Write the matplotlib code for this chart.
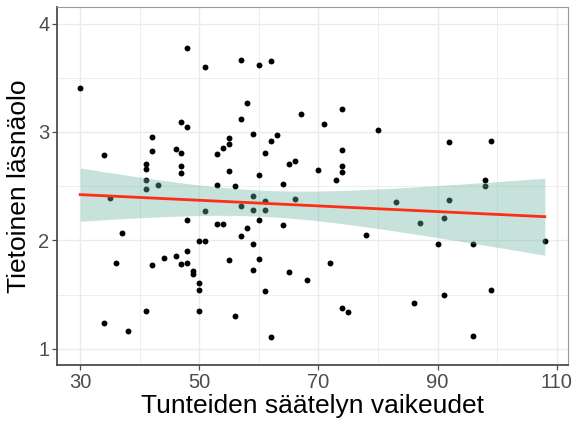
import matplotlib
matplotlib.use("Agg")
import matplotlib.pyplot as plt
import numpy as np

# Tunteiden säätelyn vaikeudet (x) ja tietoinen läsnäolo (y)
saately = [30, 48, 51, 34, 47, 48, 42, 42, 46, 47, 41, 41, 47, 47, 53, 54, 55, 55, 55, 41,
           57, 60, 62, 58, 57, 67, 74, 71, 80, 59, 62, 63, 61, 74, 65, 66, 60, 70, 74, 74,
           73, 92, 99, 98, 41, 43, 35, 53, 56, 51, 48, 53, 54, 37, 50, 51, 48, 46, 44, 36,
           42, 47, 48, 55, 49, 49, 50, 50, 41, 50, 56, 34, 38, 64, 59, 61, 57, 59, 61, 66,
           83, 60, 58, 57, 64, 59, 78, 60, 59, 65, 68, 72, 61, 74, 75, 62, 98, 92, 87, 91,
           90, 96, 108, 86, 91, 99, 96]
lasnaolo = [3.41, 3.77, 3.60, 2.79, 3.09, 3.05, 2.95, 2.82, 2.84, 2.81, 2.70, 2.66, 2.69, 2.62,
            2.80, 2.85, 2.94, 2.89, 2.64, 2.56, 3.66, 3.62, 3.65, 3.27, 3.12, 3.17, 3.21, 3.07,
            3.02, 2.98, 2.92, 2.97, 2.81, 2.83, 2.70, 2.73, 2.60, 2.65, 2.69, 2.63, 2.56, 2.91,
            2.92, 2.56, 2.47, 2.51, 2.39, 2.51, 2.50, 2.27, 2.19, 2.15, 2.15, 2.07, 1.99, 1.99,
            1.90, 1.86, 1.84, 1.79, 1.77, 1.78, 1.79, 1.82, 1.72, 1.69, 1.61, 1.54, 1.35, 1.35,
            1.30, 1.24, 1.16, 2.52, 2.41, 2.36, 2.32, 2.28, 2.28, 2.38, 2.35, 2.19, 2.11, 2.04,
            2.14, 1.97, 2.05, 1.83, 1.73, 1.71, 1.63, 1.79, 1.53, 1.38, 1.34, 1.11, 2.50, 2.37,
            2.16, 2.21, 1.97, 1.97, 1.99, 1.42, 1.50, 1.54, 1.12]

x = np.array(saately, dtype=float)
y = np.array(lasnaolo)

# lineaarinen regressio + 95 % luottamusväli (kuten geom_smooth(method="lm"))
n = len(x)
b1, b0 = np.polyfit(x, y, 1)
res = y - (b0 + b1 * x)
s = np.sqrt(np.sum(res**2) / (n - 2))
xs = np.linspace(x.min(), x.max(), 200)
ys = b0 + b1 * xs
se = s * np.sqrt(1 / n + (xs - x.mean())**2 / np.sum((x - x.mean())**2))
t = 1.98
lo, hi = ys - t * se, ys + t * se

plt.rcParams['font.family'] = ['Liberation Sans', 'DejaVu Sans']

fig = plt.figure(figsize=(5.77, 4.21), dpi=100)
ax = fig.add_axes([0.0988, 0.133, 0.8856, 0.8497])

ax.scatter(x, y, s=18, color='black', zorder=3, linewidths=0)
ax.fill_between(xs, lo, hi, color='#69b3a2', alpha=0.38, linewidth=0, zorder=4)
ax.plot(xs, ys, color='#ff2d14', linewidth=2.0, zorder=5)

ax.set_xlim(26.1, 111.9)
ax.set_ylim(0.85, 4.15)
ax.set_xticks([30, 50, 70, 90, 110])
ax.set_xticks([40, 60, 80, 100], minor=True)
ax.set_yticks([1, 2, 3, 4])
ax.set_yticks([1.5, 2.5, 3.5], minor=True)

ax.grid(which='major', color='#ebebeb', linewidth=1.0, zorder=0)
ax.grid(which='minor', color='#ebebeb', linewidth=0.6, zorder=0)
ax.set_axisbelow(True)

for side in ['top', 'right']:
    ax.spines[side].set_color('#999999')
    ax.spines[side].set_linewidth(0.8)
for side in ['left', 'bottom']:
    ax.spines[side].set_color('#4d4d4d')
    ax.spines[side].set_linewidth(1.3)

ax.tick_params(which='major', length=3.5, width=0.9, color='#4d4d4d',
               labelsize=14.5, labelcolor='#4d4d4d', pad=2)
ax.tick_params(which='minor', length=0)

ax.set_xlabel('Tunteiden säätelyn vaikeudet', fontsize=19, labelpad=2)
ax.set_ylabel('Tietoinen läsnäolo', fontsize=19, labelpad=5)

fig.savefig('out.png', dpi=100)
